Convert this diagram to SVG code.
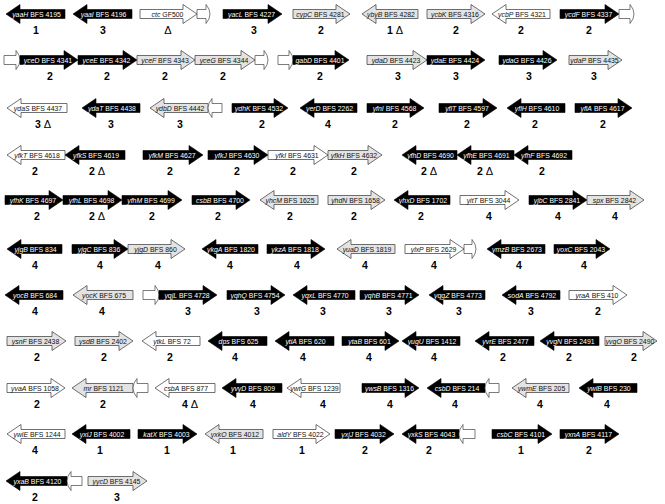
<svg xmlns="http://www.w3.org/2000/svg" width="665" height="504" viewBox="0 0 665 504">
<style>
.b{fill:#000;stroke:#000;stroke-width:.6}
.g{fill:#e3e3e3;stroke:#333;stroke-width:.7}
.w{fill:#fff;stroke:#333;stroke-width:.7}
.f{fill:#fff;stroke:#444;stroke-width:.7}
.t{font-family:"Liberation Sans",Arial,sans-serif;font-size:6.9px;text-anchor:middle}
.tw{fill:#fff}
.tk{fill:#111}
.n{font-family:"Liberation Sans",Arial,sans-serif;font-size:10.5px;font-weight:bold;text-anchor:middle;fill:#000}
.d{font-weight:normal;font-size:11px}
.i{font-style:italic}
</style>
<rect width="665" height="504" fill="#fff"/>
<g id="connectors"/>
<!-- Row 1 -->
<g id="yaaH"><path class="b" d="M65,9.5H20V4.5L6,14L20,23.5V18.5H65Z"/><text class="t tw" x="36.5" y="16.5"><tspan class="i">yaaH</tspan> BFS 4195</text><text class="n" x="36" y="34">1</text></g>
<g id="yaaI"><path class="b" d="M132,9.5H87V4.5L73,14L87,23.5V18.5H132Z"/><text class="t tw" x="103.5" y="16.5"><tspan class="i">yaaI</tspan> BFS 4196</text><text class="n" x="103" y="34">3</text></g>
<g id="ctc"><path class="w" d="M140,9.5H183V4.5L197,14L183,23.5V18.5H140Z"/><path class="f" d="M197,9.5H206V4.5Q210,9 210,14Q210,19 206,23.5V18.5H197Z"/><text class="t tk" x="167.5" y="16.5"><tspan class="i">ctc</tspan> GF500</text><text class="n" x="168" y="34"><tspan class="d">Δ</tspan></text></g>
<g id="yacL"><path class="b" d="M223,9.5H268V4.5L282,14L268,23.5V18.5H223Z"/><text class="t tw" x="251.5" y="16.5"><tspan class="i">yacL</tspan> BFS 4227</text><text class="n" x="254" y="34">3</text></g>
<g id="cypC"><path class="g" d="M293,9.5H336V4.5L350,14L336,23.5V18.5H293Z"/><text class="t tk" x="320.5" y="16.5"><tspan class="i">cypC</tspan> BFS 4281</text><text class="n" x="321" y="34">2</text></g>
<g id="ybyB"><path class="g" d="M418,9.5H376V4.5L362,14L376,23.5V18.5H418Z"/><text class="t tk" x="391" y="16.5"><tspan class="i">ybyB</tspan> BFS 4282</text><text class="n" x="395" y="34">1 <tspan class="d">Δ</tspan></text></g>
<g id="ycbK"><path class="g" d="M427,9.5H471V4.5L485,14L471,23.5V18.5H427Z"/><text class="t tk" x="455" y="16.5"><tspan class="i">ycbK</tspan> BFS 4316</text><text class="n" x="456" y="34">2</text></g>
<g id="ycbP"><path class="w" d="M550,9.5H506V4.5L492,14L506,23.5V18.5H550Z"/><text class="t tk" x="522" y="16.5"><tspan class="i">ycbP</tspan> BFS 4321</text><text class="n" x="521" y="34">2</text></g>
<g id="ycdF"><path class="b" d="M560,9.5H605V4.5L619,14L605,23.5V18.5H560Z"/><path class="f" d="M619,9.5H630V4.5Q634,9 634,14Q634,19 630,23.5V18.5H619Z"/><text class="t tw" x="588.5" y="16.5"><tspan class="i">ycdF</tspan> BFS 4337</text><text class="n" x="589" y="34">2</text></g>
<!-- Row 2 -->
<g id="frag2a"><path class="f" d="M4,55.5H16V50.5Q20,55 20,60Q20,65 16,69.5V64.5H4Z"/></g>
<g id="yceD"><path class="b" d="M20,55.5H64V50.5L78,60L64,69.5V64.5H20Z"/><text class="t tw" x="48" y="62.5"><tspan class="i">yceD</tspan> BFS 4341</text><text class="n" x="50" y="80">2</text></g>
<g id="yceE"><path class="b" d="M78,55.5H123V50.5L137,60L123,69.5V64.5H78Z"/><text class="t tw" x="106.5" y="62.5"><tspan class="i">yceE</tspan> BFS 4342</text><text class="n" x="107" y="80">2</text></g>
<g id="yceF"><path class="g" d="M137,55.5H181V50.5L195,60L181,69.5V64.5H137Z"/><text class="t tk" x="165" y="62.5"><tspan class="i">yceF</tspan> BFS 4343</text><text class="n" x="165" y="80">2</text></g>
<g id="yceG"><path class="g" d="M195,55.5H241V50.5L255,60L241,69.5V64.5H195Z"/><path class="f" d="M255,55.5H264V50.5Q268,55 268,60Q268,65 264,69.5V64.5H255Z"/><text class="t tk" x="224" y="62.5"><tspan class="i">yceG</tspan> BFS 4344</text><text class="n" x="223" y="80">2</text></g>
<g id="gabD"><path class="f" d="M278,55.5H289V50.5Q293,55 293,60Q293,65 289,69.5V64.5H278Z"/><path class="b" d="M293,55.5H335V50.5L349,60L335,69.5V64.5H293Z"/><text class="t tw" x="320" y="62.5"><tspan class="i">gabD</tspan> BFS 4401</text><text class="n" x="320" y="80">2</text></g>
<g id="ydaD"><path class="g" d="M367,55.5H413V50.5L427,60L413,69.5V64.5H367Z"/><text class="t tk" x="396" y="62.5"><tspan class="i">ydaD</tspan> BFS 4423</text><text class="n" x="398" y="80">3</text></g>
<g id="ydaE"><path class="b" d="M427,55.5H471V50.5L485,60L471,69.5V64.5H427Z"/><text class="t tw" x="455" y="62.5"><tspan class="i">ydaE</tspan> BFS 4424</text><text class="n" x="456" y="80">3</text></g>
<g id="ydaG"><path class="b" d="M499,55.5H543V50.5L557,60L543,69.5V64.5H499Z"/><text class="t tw" x="527" y="62.5"><tspan class="i">ydaG</tspan> BFS 4426</text><text class="n" x="529" y="80">3</text></g>
<g id="ydaP"><path class="g" d="M569,55.5H608V50.5L622,60L608,69.5V64.5H569Z"/><text class="t tk" x="594.5" y="62.5"><tspan class="i">ydaP</tspan> BFS 4435</text><text class="n" x="594" y="80">3</text></g>
<!-- Row 3 -->
<g id="ydaS"><path class="w" d="M67,103.5H21V98.5L7,108L21,117.5V112.5H67Z"/><text class="t tk" x="38" y="110.5"><tspan class="i">ydaS</tspan> BFS 4437</text><text class="n" x="43" y="128">3 <tspan class="d">Δ</tspan></text></g>
<g id="ydaT"><path class="b" d="M140,103.5H96V98.5L82,108L96,117.5V112.5H140Z"/><text class="t tw" x="112" y="110.5"><tspan class="i">ydaT</tspan> BFS 4438</text><text class="n" x="111" y="128">3</text></g>
<g id="ydbD"><path class="g" d="M208,103.5H164V98.5L150,108L164,117.5V112.5H208Z"/><path class="f" d="M222,103.5H212V98.5Q208,103 208,108Q208,113 212,117.5V112.5H222Z"/><text class="t tk" x="180" y="110.5"><tspan class="i">ydbD</tspan> BFS 4442</text><text class="n" x="180" y="128">3</text></g>
<g id="ydhK"><path class="b" d="M232,103.5H274V98.5L288,108L274,117.5V112.5H232Z"/><text class="t tw" x="259" y="110.5"><tspan class="i">ydhK</tspan> BFS 4532</text><text class="n" x="262" y="128">2</text></g>
<g id="yerD"><path class="b" d="M357,103.5H314V98.5L300,108L314,117.5V112.5H357Z"/><text class="t tw" x="329.5" y="110.5"><tspan class="i">yerD</tspan> BFS 2262</text><text class="n" x="328" y="128">4</text></g>
<g id="yfnI"><path class="b" d="M367,103.5H410V98.5L424,108L410,117.5V112.5H367Z"/><text class="t tw" x="394.5" y="110.5"><tspan class="i">yfnI</tspan> BFS 4568</text><text class="n" x="395" y="128">2</text></g>
<g id="yflT"><path class="b" d="M439,103.5H483V98.5L497,108L483,117.5V112.5H439Z"/><text class="t tw" x="467" y="110.5"><tspan class="i">yflT</tspan> BFS 4597</text><text class="n" x="467" y="128">2</text></g>
<g id="yflH"><path class="b" d="M565,103.5H521V98.5L507,108L521,117.5V112.5H565Z"/><text class="t tw" x="537" y="110.5"><tspan class="i">yflH</tspan> BFS 4610</text><text class="n" x="535" y="128">2</text></g>
<g id="yflA"><path class="b" d="M575,103.5H618V98.5L632,108L618,117.5V112.5H575Z"/><text class="t tw" x="602.5" y="110.5"><tspan class="i">yflA</tspan> BFS 4617</text><text class="n" x="603" y="128">2</text></g>
<!-- Row 4 -->
<g id="yfkT"><path class="w" d="M65,150.5H21V145.5L7,155L21,164.5V159.5H65Z"/><text class="t tk" x="37" y="157.5"><tspan class="i">yfkT</tspan> BFS 4618</text><text class="n" x="35" y="175">2</text></g>
<g id="yfkS"><path class="b" d="M125,150.5H79V145.5L65,155L79,164.5V159.5H125Z"/><text class="t tw" x="96" y="157.5"><tspan class="i">yfkS</tspan> BFS 4619</text><text class="n" x="97" y="175">2 <tspan class="d">Δ</tspan></text></g>
<g id="yfkM"><path class="b" d="M143,150.5H189V145.5L203,155L189,164.5V159.5H143Z"/><text class="t tw" x="172" y="157.5"><tspan class="i">yfkM</tspan> BFS 4627</text><text class="n" x="170" y="175">2</text></g>
<g id="yfkJ"><path class="b" d="M208,150.5H254V145.5L268,155L254,164.5V159.5H208Z"/><text class="t tw" x="237" y="157.5"><tspan class="i">yfkJ</tspan> BFS 4630</text><text class="n" x="237" y="175">2</text></g>
<g id="yfkI"><path class="w" d="M268,150.5H314V145.5L328,155L314,164.5V159.5H268Z"/><text class="t tk" x="297" y="157.5"><tspan class="i">yfkI</tspan> BFS 4631</text><text class="n" x="293" y="175">2</text></g>
<g id="yfkH"><path class="g" d="M328,150.5H368V145.5L382,155L368,164.5V159.5H328Z"/><text class="t tk" x="354" y="157.5"><tspan class="i">yfkH</tspan> BFS 4632</text><text class="n" x="354" y="175">2</text></g>
<g id="yfhD"><path class="b" d="M457,150.5H416V145.5L402,155L416,164.5V159.5H457Z"/><text class="t tw" x="430.5" y="157.5"><tspan class="i">yfhD</tspan> BFS 4690</text><text class="n" x="429" y="175">2 <tspan class="d">Δ</tspan></text></g>
<g id="yfhE"><path class="b" d="M514,150.5H471V145.5L457,155L471,164.5V159.5H514Z"/><text class="t tw" x="486.5" y="157.5"><tspan class="i">yfhE</tspan> BFS 4691</text><text class="n" x="485" y="175">2 <tspan class="d">Δ</tspan></text></g>
<g id="yfhF"><path class="b" d="M572,150.5H528V145.5L514,155L528,164.5V159.5H572Z"/><text class="t tw" x="544" y="157.5"><tspan class="i">yfhF</tspan> BFS 4692</text><text class="n" x="542" y="175">2</text></g>
<!-- Row 5 -->
<g id="yfhK"><path class="b" d="M5,195.5H49V190.5L63,200L49,209.5V204.5H5Z"/><text class="t tw" x="33" y="202.5"><tspan class="i">yfhK</tspan> BFS 4697</text><text class="n" x="37" y="220">2</text></g>
<g id="yfhL"><path class="b" d="M63,195.5H108V190.5L122,200L108,209.5V204.5H63Z"/><text class="t tw" x="91.5" y="202.5"><tspan class="i">yfhL</tspan> BFS 4698</text><text class="n" x="97" y="220">2 <tspan class="d">Δ</tspan></text></g>
<g id="yfhM"><path class="b" d="M122,195.5H168V190.5L182,200L168,209.5V204.5H122Z"/><text class="t tw" x="151" y="202.5"><tspan class="i">yfhM</tspan> BFS 4699</text><text class="n" x="152" y="220">2</text></g>
<g id="csbB"><path class="b" d="M192,195.5H236V190.5L250,200L236,209.5V204.5H192Z"/><text class="t tw" x="220" y="202.5"><tspan class="i">csbB</tspan> BFS 4700</text><text class="n" x="218" y="220">2</text></g>
<g id="yhcM"><path class="g" d="M318,195.5H274V190.5L260,200L274,209.5V204.5H318Z"/><text class="t tk" x="290" y="202.5"><tspan class="i">yhcM</tspan> BFS 1625</text><text class="n" x="290" y="220">2</text></g>
<g id="yhdN"><path class="g" d="M328,195.5H371V190.5L385,200L371,209.5V204.5H328Z"/><text class="t tk" x="355.5" y="202.5"><tspan class="i">yhdN</tspan> BFS 1658</text><text class="n" x="354" y="220">2</text></g>
<g id="yhxD"><path class="b" d="M450,195.5H408V190.5L394,200L408,209.5V204.5H450Z"/><text class="t tw" x="423" y="202.5"><tspan class="i">yhxD</tspan> BFS 1702</text><text class="n" x="421" y="220">2</text></g>
<g id="yitT"><path class="w" d="M460,195.5H505V190.5L519,200L505,209.5V204.5H460Z"/><text class="t tk" x="488.5" y="202.5"><tspan class="i">yitT</tspan> BFS 3044</text><text class="n" x="489" y="220">4</text></g>
<g id="yjbC"><path class="b" d="M529,195.5H573V190.5L587,200L573,209.5V204.5H529Z"/><text class="t tw" x="557" y="202.5"><tspan class="i">yjbC</tspan> BFS 2841</text><text class="n" x="558" y="220">4</text></g>
<g id="spx"><path class="g" d="M587,195.5H630V190.5L644,200L630,209.5V204.5H587Z"/><text class="t tk" x="614.5" y="202.5"><tspan class="i">spx</tspan> BFS 2842</text><text class="n" x="615" y="220">4</text></g>
<!-- Row 6 -->
<g id="yjgB"><path class="b" d="M62,244.5H21V239.5L7,249L21,258.5V253.5H62Z"/><text class="t tw" x="35.5" y="251.5"><tspan class="i">yjgB</tspan> BFS 834</text><text class="n" x="35" y="269">4</text></g>
<g id="yjgC"><path class="b" d="M72,244.5H114V239.5L128,249L114,258.5V253.5H72Z"/><text class="t tw" x="99" y="251.5"><tspan class="i">yjgC</tspan> BFS 836</text><text class="n" x="100" y="269">4</text></g>
<g id="yjgD"><path class="g" d="M128,244.5H171V239.5L185,249L171,258.5V253.5H128Z"/><text class="t tk" x="155.5" y="251.5"><tspan class="i">yjgD</tspan> BFS 860</text><text class="n" x="158" y="269">4</text></g>
<g id="ykgA"><path class="b" d="M258,244.5H216V239.5L202,249L216,258.5V253.5H258Z"/><text class="t tw" x="231" y="251.5"><tspan class="i">ykgA</tspan> BFS 1820</text><text class="n" x="230" y="269">4</text></g>
<g id="ykzA"><path class="b" d="M267,244.5H311V239.5L325,249L311,258.5V253.5H267Z"/><text class="t tw" x="295" y="251.5"><tspan class="i">ykzA</tspan> BFS 1818</text><text class="n" x="297" y="269">4</text></g>
<g id="yuaD"><path class="g" d="M395,244.5H351V239.5L337,249L351,258.5V253.5H395Z"/><text class="t tk" x="367" y="251.5"><tspan class="i">yuaD</tspan> BFS 1819</text><text class="n" x="365" y="269">4</text></g>
<g id="ylxP"><path class="w" d="M405,244.5H450V239.5L464,249L450,258.5V253.5H405Z"/><path class="f" d="M464,244.5H472V239.5Q476,244 476,249Q476,254 472,258.5V253.5H464Z"/><text class="t tk" x="433.5" y="251.5"><tspan class="i">ylxP</tspan> BFS 2629</text><text class="n" x="434" y="269">4</text></g>
<g id="ymzB"><path class="b" d="M545,244.5H501V239.5L487,249L501,258.5V253.5H545Z"/><text class="t tw" x="517" y="251.5"><tspan class="i">ymzB</tspan> BFS 2673</text><text class="n" x="519" y="269">4</text></g>
<g id="yoxC"><path class="b" d="M554,244.5H596V239.5L610,249L596,258.5V253.5H554Z"/><text class="t tw" x="581" y="251.5"><tspan class="i">yoxC</tspan> BFS 2043</text><text class="n" x="584" y="269">4</text></g>
<!-- Row 7 -->
<g id="yocB"><path class="b" d="M63,290.5H19V285.5L5,295L19,304.5V299.5H63Z"/><text class="t tw" x="35" y="297.5"><tspan class="i">yocB</tspan> BFS 684</text><text class="n" x="35" y="315">4</text></g>
<g id="yocK"><path class="g" d="M133,290.5H87V285.5L73,295L87,304.5V299.5H133Z"/><text class="t tk" x="104" y="297.5"><tspan class="i">yocK</tspan> BFS 675</text><text class="n" x="102" y="315">4</text></g>
<g id="yqjL"><path class="f" d="M143,290.5H155V285.5Q159,290 159,295Q159,300 155,304.5V299.5H143Z"/><path class="b" d="M159,290.5H203V285.5L217,295L203,304.5V299.5H159Z"/><text class="t tw" x="187" y="297.5"><tspan class="i">yqjL</tspan> BFS 4728</text><text class="n" x="188" y="315">3</text></g>
<g id="yqhQ"><path class="b" d="M227,290.5H271V285.5L285,295L271,304.5V299.5H227Z"/><text class="t tw" x="255" y="297.5"><tspan class="i">yqhQ</tspan> BFS 4754</text><text class="n" x="257" y="315">3</text></g>
<g id="yqxL"><path class="b" d="M355,290.5H307V285.5L293,295L307,304.5V299.5H355Z"/><text class="t tw" x="325" y="297.5"><tspan class="i">yqxL</tspan> BFS 4770</text><text class="n" x="323" y="315">3</text></g>
<g id="yqhB"><path class="b" d="M360,290.5H405V285.5L419,295L405,304.5V299.5H360Z"/><text class="t tw" x="388.5" y="297.5"><tspan class="i">yqhB</tspan> BFS 4771</text><text class="n" x="389" y="315">3</text></g>
<g id="yqgZ"><path class="b" d="M485,290.5H443V285.5L429,295L443,304.5V299.5H485Z"/><text class="t tw" x="458" y="297.5"><tspan class="i">yqgZ</tspan> BFS 4773</text><text class="n" x="459" y="315">3</text></g>
<g id="sodA"><path class="b" d="M560,290.5H516V285.5L502,295L516,304.5V299.5H560Z"/><text class="t tw" x="532" y="297.5"><tspan class="i">sodA</tspan> BFS 4792</text><text class="n" x="531" y="315">3</text></g>
<g id="yraA"><path class="w" d="M569,290.5H613V285.5L627,295L613,304.5V299.5H569Z"/><text class="t tk" x="597" y="297.5"><tspan class="i">yraA</tspan> BFS 410</text><text class="n" x="598" y="315">2</text></g>
<!-- Row 8 -->
<g id="ysnF"><path class="g" d="M7,336.5H52V331.5L66,341L52,350.5V345.5H7Z"/><text class="t tk" x="35.5" y="343.5"><tspan class="i">ysnF</tspan> BFS 2438</text><text class="n" x="37" y="361">2</text></g>
<g id="ysdB"><path class="g" d="M75,336.5H119V331.5L133,341L119,350.5V345.5H75Z"/><text class="t tk" x="103" y="343.5"><tspan class="i">ysdB</tspan> BFS 2402</text><text class="n" x="104" y="361">2</text></g>
<g id="ytkL"><path class="w" d="M200,336.5H156V331.5L142,341L156,350.5V345.5H200Z"/><text class="t tk" x="172" y="343.5"><tspan class="i">ytkL</tspan> BFS 72</text><text class="n" x="170" y="361">2</text></g>
<g id="dps"><path class="b" d="M267,336.5H222V331.5L208,341L222,350.5V345.5H267Z"/><text class="t tw" x="238.5" y="343.5"><tspan class="i">dps</tspan> BFS 625</text><text class="n" x="235" y="361">4</text></g>
<g id="ytiA"><path class="b" d="M334,336.5H289V331.5L275,341L289,350.5V345.5H334Z"/><text class="t tw" x="305.5" y="343.5"><tspan class="i">ytiA</tspan> BFS 620</text><text class="n" x="303" y="361">4</text></g>
<g id="ytaB"><path class="b" d="M342,336.5H385V331.5L399,341L385,350.5V345.5H342Z"/><text class="t tw" x="369.5" y="343.5"><tspan class="i">ytaB</tspan> BFS 601</text><text class="n" x="369" y="361">4</text></g>
<g id="yugU"><path class="b" d="M460,336.5H416V331.5L402,341L416,350.5V345.5H460Z"/><text class="t tw" x="432" y="343.5"><tspan class="i">yugU</tspan> BFS 1412</text><text class="n" x="434" y="361">4</text></g>
<g id="yvrE"><path class="b" d="M534,336.5H489V331.5L475,341L489,350.5V345.5H534Z"/><text class="t tw" x="505.5" y="343.5"><tspan class="i">yvrE</tspan> BFS 2477</text><text class="n" x="503" y="361">2</text></g>
<g id="yvgN"><path class="b" d="M599,336.5H554V331.5L540,341L554,350.5V345.5H599Z"/><text class="t tw" x="570.5" y="343.5"><tspan class="i">yvgN</tspan> BFS 2491</text><text class="n" x="569" y="361">2</text></g>
<g id="yvgO"><path class="g" d="M605,336.5H643V331.5L657,341L643,350.5V345.5H605Z"/><text class="t tk" x="630" y="343.5"><tspan class="i">yvgO</tspan> BFS 2490</text><text class="n" x="634" y="361">2</text></g>
<!-- Row 9 -->
<g id="yvaA"><path class="w" d="M7,383.5H51V378.5L65,388L51,397.5V392.5H7Z"/><text class="t tk" x="35" y="390.5"><tspan class="i">yvaA</tspan> BFS 1058</text><text class="n" x="37" y="408">2</text></g>
<g id="mr"><path class="g" d="M133,383.5H86V378.5L72,388L86,397.5V392.5H133Z"/><path class="f" d="M148,383.5H137V378.5Q133,383 133,388Q133,393 137,397.5V392.5H148Z"/><text class="t tk" x="103.5" y="390.5"><tspan class="i">mr</tspan> BFS 1121</text><text class="n" x="103" y="408">2</text></g>
<g id="csbA"><path class="w" d="M215,383.5H169V378.5L155,388L169,397.5V392.5H215Z"/><text class="t tk" x="186" y="390.5"><tspan class="i">csbA</tspan> BFS 877</text><text class="n" x="190" y="408">4 <tspan class="d">Δ</tspan></text></g>
<g id="yvyD"><path class="b" d="M282,383.5H236V378.5L222,388L236,397.5V392.5H282Z"/><text class="t tw" x="253" y="390.5"><tspan class="i">yvyD</tspan> BFS 809</text><text class="n" x="253" y="408">4</text></g>
<g id="ywtG"><path class="w" d="M340,383.5H301V378.5L287,388L301,397.5V392.5H340Z"/><text class="t tk" x="314.5" y="390.5"><tspan class="i">ywtG</tspan> BFS 1239</text><text class="n" x="323" y="408">4</text></g>
<g id="ywsB"><path class="b" d="M362,383.5H405V378.5L419,388L405,397.5V392.5H362Z"/><text class="t tw" x="389.5" y="390.5"><tspan class="i">ywsB</tspan> BFS 1316</text><text class="n" x="390" y="408">4</text></g>
<g id="csbD"><path class="b" d="M485,383.5H441V378.5L427,388L441,397.5V392.5H485Z"/><path class="f" d="M499,383.5H489V378.5Q485,383 485,388Q485,393 489,397.5V392.5H499Z"/><text class="t tw" x="457" y="390.5"><tspan class="i">csbD</tspan> BFS 214</text><text class="n" x="455" y="408">4</text></g>
<g id="ywmE"><path class="g" d="M569,383.5H526V378.5L512,388L526,397.5V392.5H569Z"/><text class="t tk" x="541.5" y="390.5"><tspan class="i">ywmE</tspan> BFS 205</text><text class="n" x="540" y="408">4</text></g>
<g id="ywlB"><path class="b" d="M637,383.5H593V378.5L579,388L593,397.5V392.5H637Z"/><text class="t tw" x="609" y="390.5"><tspan class="i">ywlB</tspan> BFS 230</text><text class="n" x="607" y="408">4</text></g>
<!-- Row 10 -->
<g id="ywlE"><path class="w" d="M65,429.5H21V424.5L7,434L21,443.5V438.5H65Z"/><text class="t tk" x="37" y="436.5"><tspan class="i">ywlE</tspan> BFS 1244</text><text class="n" x="35" y="454">4</text></g>
<g id="yxiJ"><path class="b" d="M130,429.5H86V424.5L72,434L86,443.5V438.5H130Z"/><text class="t tw" x="102" y="436.5"><tspan class="i">yxiJ</tspan> BFS 4002</text><text class="n" x="100" y="454">1</text></g>
<g id="katX"><path class="b" d="M138,429.5H183V424.5L197,434L183,443.5V438.5H138Z"/><text class="t tw" x="166.5" y="436.5"><tspan class="i">katX</tspan> BFS 4003</text><text class="n" x="167" y="454">1</text></g>
<g id="yxkO"><path class="g" d="M263,429.5H219V424.5L205,434L219,443.5V438.5H263Z"/><text class="t tk" x="235" y="436.5"><tspan class="i">yxkO</tspan> BFS 4012</text><text class="n" x="233" y="454">1</text></g>
<g id="aldY"><path class="w" d="M273,429.5H316V424.5L330,434L316,443.5V438.5H273Z"/><text class="t tk" x="300.5" y="436.5"><tspan class="i">aldY</tspan> BFS 4022</text><text class="n" x="302" y="454">1</text></g>
<g id="yxjJ"><path class="b" d="M335,429.5H380V424.5L394,434L380,443.5V438.5H335Z"/><text class="t tw" x="363.5" y="436.5"><tspan class="i">yxjJ</tspan> BFS 4032</text><text class="n" x="365" y="454">2</text></g>
<g id="yxkS"><path class="b" d="M459,429.5H416V424.5L402,434L416,443.5V438.5H459Z"/><path class="f" d="M475,429.5H463V424.5Q459,429 459,434Q459,439 463,443.5V438.5H475Z"/><text class="t tw" x="431.5" y="436.5"><tspan class="i">yxkS</tspan> BFS 4043</text><text class="n" x="429" y="454">2</text></g>
<g id="csbC"><path class="b" d="M492,429.5H538V424.5L552,434L538,443.5V438.5H492Z"/><text class="t tw" x="521" y="436.5"><tspan class="i">csbC</tspan> BFS 4101</text><text class="n" x="521" y="454">1</text></g>
<g id="yxnA"><path class="b" d="M560,429.5H605V424.5L619,434L605,443.5V438.5H560Z"/><text class="t tw" x="588.5" y="436.5"><tspan class="i">yxnA</tspan> BFS 4117</text><text class="n" x="589" y="454">2</text></g>
<!-- Row 11 -->
<g id="yxaB"><path class="b" d="M67,476.5H20V471.5L6,481L20,490.5V485.5H67Z"/><path class="f" d="M82,476.5H71V471.5Q67,476 67,481Q67,486 71,490.5V485.5H82Z"/><text class="t tw" x="37.5" y="483.5"><tspan class="i">yxaB</tspan> BFS 4120</text><text class="n" x="35" y="501">2</text></g>
<g id="yycD"><path class="g" d="M88,476.5H133V471.5L147,481L133,490.5V485.5H88Z"/><text class="t tk" x="116.5" y="483.5"><tspan class="i">yycD</tspan> BFS 4145</text><text class="n" x="117" y="501">3</text></g>
</svg>
